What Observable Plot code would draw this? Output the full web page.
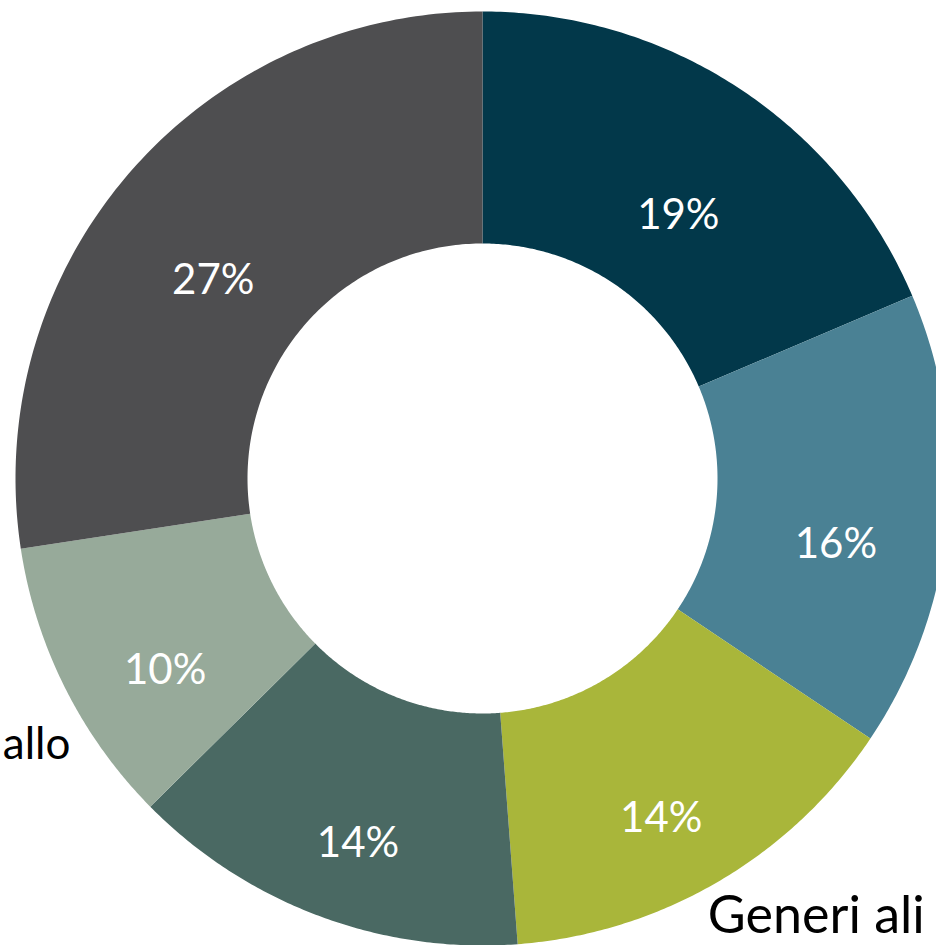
<!DOCTYPE html>
<html><head><meta charset="utf-8">
<script src="https://cdn.jsdelivr.net/npm/d3@7"></script>
<script src="https://cdn.jsdelivr.net/npm/@observablehq/plot@0.6"></script>
<style>html,body{margin:0;padding:0;background:#fff;overflow:hidden}</style>
</head><body><div id="chart"></div>
<script>
// Data (slices clockwise from 12 o'clock)
const categories = ["Slice 1", "Slice 2", "Generi ali", "Slice 4", "allo", "Slice 6"];
const outerLabels = ["", "", "Generi ali", "", "allo", ""];
const shares = [18.6, 15.8, 14.4, 13.8, 10.0, 27.4];
const colors = ["#02384A", "#4A8194", "#A9B63A", "#4A6963", "#97AA9A", "#4E4E50"];

// Geometry
const R = 467, r0 = 235, rLab = 355, rOut = 517;
const pie = d3.pie().sort(null).value(d => d.share);
const table = categories.map((c, i) => ({cat: c, share: shares[i], outer: outerLabels[i]}));
const arcs = pie(table).map(a => ({...a.data, a0: a.startAngle, a1: a.endAngle, mid: (a.startAngle + a.endAngle) / 2}));

const pts = [];
for (const s of arcs) {
  const n = 120;
  for (let k = 0; k <= n; k++) {
    const a = s.a0 + (s.a1 - s.a0) * k / n;
    pts.push({cat: s.cat, x: R * Math.sin(a), y: R * Math.cos(a)});
  }
  for (let k = n; k >= 0; k--) {
    const a = s.a0 + (s.a1 - s.a0) * k / n;
    pts.push({cat: s.cat, x: r0 * Math.sin(a), y: r0 * Math.cos(a)});
  }
}

const W = 936, H = 945, cx = 482, cy = 478;
const chart = Plot.plot({
  width: W, height: H, margin: 0,
  x: {domain: [-cx, W - cx], axis: null},
  y: {domain: [-(H - cy), cy], axis: null},
  color: {domain: categories, range: colors},
  style: {background: "white"},
  marks: [
    Plot.line(pts, {x: "x", y: "y", z: "cat", fill: "cat", stroke: null, curve: "linear-closed"}),
    Plot.text(arcs, {
      x: d => rLab * Math.sin(d.mid), y: d => rLab * Math.cos(d.mid),
      text: d => Math.round(d.share) + "%",
      fill: "white", fontSize: 42, fontFamily: "Lato", dy: 33
    }),
    Plot.text(arcs.filter(d => d.outer === "Generi ali"), {
      x: d => rOut * Math.sin(d.mid), y: d => rOut * Math.cos(d.mid),
      text: "outer", textAnchor: "start", fill: "black", fontSize: 52, fontFamily: "Lato", dx: -35, dy: -9
    }),
    Plot.text(arcs.filter(d => d.outer === "allo"), {
      x: d => rOut * Math.sin(d.mid), y: d => rOut * Math.cos(d.mid),
      text: "outer", textAnchor: "end", fill: "black", fontSize: 44, fontFamily: "Lato", dx: 50, dy: 35
    })
  ]
});
document.getElementById("chart").appendChild(chart);
</script>
</body></html>
